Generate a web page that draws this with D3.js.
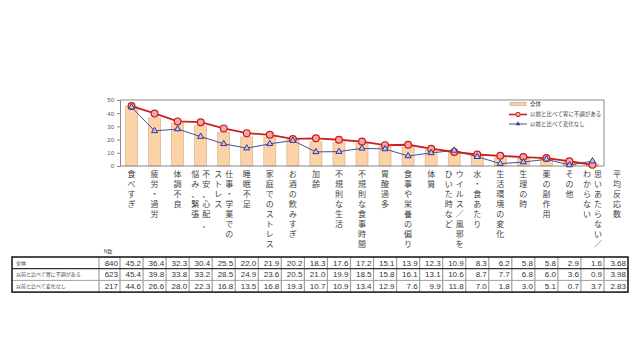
<!DOCTYPE html>
<html>
<head>
<meta charset="utf-8">
<script src="https://cdn.jsdelivr.net/npm/d3@7"></script>
<style>
  body { margin: 0; background: #fff; }
  svg { display: block; }
</style>
</head>
<body>
<script>
const W = 640, H = 360;

// categories, written as vertical label columns (right column first)
const categories = [
  ['食べすぎ'], ['疲労・過労'], ['体調不良'], ['不安、心配、', '悩み、緊張'],
  ['仕事・学業での', 'ストレス'], ['睡眠不足'], ['家庭でのストレス'], ['お酒の飲みすぎ'],
  ['加齢'], ['不規則な生活'], ['不規則な食事時間'], ['胃酸過多'],
  ['食事や栄養の偏り'], ['体質'], ['ウイルス／風邪を', 'ひいた時など'], ['水・食あたり'],
  ['生活環境の変化'], ['生理の時'], ['薬の副作用'], ['その他'],
  ['思いあたらない／', 'わからない']
];
const extraColumn = ['平均反応数'];

const seriesNames = ['全体', '以前と比べて胃に不調がある', '以前と比べて変化なし'];
const nValues = [840, 623, 217];

const totalAll   = [45.2, 36.4, 32.3, 30.4, 25.5, 22.0, 21.9, 20.2, 18.3, 17.6, 17.2, 15.1, 13.9, 12.3, 10.9, 8.3, 6.2, 5.8, 5.8, 2.9, 1.6];
const troubled   = [45.4, 39.8, 33.8, 33.2, 28.5, 24.9, 23.6, 20.5, 21.0, 19.9, 18.5, 15.8, 16.1, 13.1, 10.6, 8.7, 7.7, 6.8, 6.0, 3.6, 0.9];
const unchanged  = [44.6, 26.6, 28.0, 22.3, 16.8, 13.5, 16.8, 19.3, 10.7, 10.9, 13.4, 12.9, 7.6, 9.9, 11.8, 7.0, 1.8, 3.0, 5.1, 0.7, 3.7];
const avgResponses = [3.68, 3.98, 2.83];

const yTicks = [0, 10, 20, 30, 40, 50];

const jp = '"Noto Sans CJK JP", sans-serif';
const num = '"Liberation Sans", Arial, sans-serif';

const svg = d3.select('body').append('svg').attr('width', W).attr('height', H);

const x = d3.scaleBand()
  .domain(d3.range(categories.length))
  .range([120, 604])
  .paddingInner(0.48)
  .paddingOuter(0.24);
const step = x.step();
const cx = (i) => x(i) + x.bandwidth() / 2;

const y = d3.scaleLinear().domain([0, 50]).range([166, 100]);

// frame (top and right)
svg.append('path')
  .attr('d', `M${x.range()[0]},${y(50)}H${x.range()[1]}V${y(0)}`)
  .attr('fill', 'none')
  .attr('stroke', '#8a8a8a')
  .attr('stroke-width', 1);

// bars
svg.append('g').selectAll('rect')
  .data(totalAll)
  .enter()
  .append('rect')
    .attr('x', (d, i) => x(i))
    .attr('y', (d) => y(d))
    .attr('width', x.bandwidth())
    .attr('height', (d) => y(0) - y(d))
    .attr('fill', '#fcd3a9')
    .attr('stroke', '#d8a780')
    .attr('stroke-width', 0.6);

// y axis
const yAxis = svg.append('g')
  .attr('transform', `translate(${x.range()[0]},0)`)
  .call(d3.axisLeft(y).tickValues(yTicks).tickSize(3).tickPadding(3));
yAxis.select('.domain').attr('stroke', '#8a8a8a');
yAxis.selectAll('.tick line').attr('stroke', '#8a8a8a');
yAxis.selectAll('text').attr('font-family', num).attr('font-size', 6).attr('fill', '#555');

// x baseline
svg.append('line')
  .attr('x1', x.range()[0]).attr('x2', x.range()[1])
  .attr('y1', y(0)).attr('y2', y(0))
  .attr('stroke', '#8a8a8a');

// lines
const line = d3.line().x((d, i) => cx(i)).y((d) => y(d));

svg.append('path')
  .datum(unchanged)
  .attr('d', line)
  .attr('fill', 'none')
  .attr('stroke', '#4d4d99')
  .attr('stroke-width', 1);

svg.append('path')
  .datum(troubled)
  .attr('d', line)
  .attr('fill', 'none')
  .attr('stroke', '#cc2020')
  .attr('stroke-width', 1.8);

svg.append('g').selectAll('circle')
  .data(troubled)
  .enter()
  .append('circle')
    .attr('cx', (d, i) => cx(i))
    .attr('cy', (d) => y(d))
    .attr('r', 3.4)
    .attr('fill', '#f3a8a8')
    .attr('stroke', '#cc1a1a')
    .attr('stroke-width', 1.2);

const tri = d3.symbol().type(d3.symbolTriangle).size(16);
svg.append('g').selectAll('path')
  .data(unchanged)
  .enter()
  .append('path')
    .attr('d', tri)
    .attr('transform', (d, i) => `translate(${cx(i)},${y(d)})`)
    .attr('fill', '#c9c9ee')
    .attr('stroke', '#35358a')
    .attr('stroke-width', 1);

// legend
const legend = svg.append('g').attr('font-family', jp).attr('font-size', 5.5).attr('fill', '#444');
const legendY = [104, 114.5, 124];
legend.append('rect')
  .attr('x', 510).attr('y', legendY[0] - 1.5).attr('width', 16).attr('height', 3)
  .attr('fill', '#fcd3a9').attr('stroke', '#c99a72').attr('stroke-width', 0.6);
legend.append('line')
  .attr('x1', 509).attr('x2', 527).attr('y1', legendY[1]).attr('y2', legendY[1])
  .attr('stroke', '#cc2020').attr('stroke-width', 1.6);
legend.append('circle')
  .attr('cx', 518).attr('cy', legendY[1]).attr('r', 2.2)
  .attr('fill', '#f3a8a8').attr('stroke', '#cc1a1a').attr('stroke-width', 1);
legend.append('line')
  .attr('x1', 509).attr('x2', 527).attr('y1', legendY[2]).attr('y2', legendY[2])
  .attr('stroke', '#4d4d99').attr('stroke-width', 1);
legend.append('path')
  .attr('d', d3.symbol().type(d3.symbolTriangle).size(9))
  .attr('transform', `translate(518,${legendY[2]})`)
  .attr('fill', '#35358a');
legend.selectAll('text.lg')
  .data(seriesNames)
  .enter()
  .append('text')
    .attr('class', 'lg')
    .attr('x', 530)
    .attr('y', (d, i) => legendY[i])
    .attr('dy', '0.35em')
    .text((d) => d);

// vertical category labels
const labels = svg.append('g')
  .attr('font-family', jp)
  .attr('font-size', 8)
  .attr('fill', '#444')
  .attr('text-anchor', 'middle');

function verticalLabel(cols, center) {
  const off = cols.length > 1 ? 5.5 : 0;
  cols.forEach((col, c) => {
    // first column is read first, so it sits on the right
    const colX = center + (c === 0 ? off : -off);
    Array.from(col).forEach((ch, k) => {
      labels.append('text')
        .attr('x', colX)
        .attr('y', 177 + k * 10)
        .text(ch);
    });
  });
}
categories.forEach((cols, i) => verticalLabel(cols, cx(i)));
verticalLabel(extraColumn, x.range()[1] + 13);

// table
const tTop = 257, rowH = 11.7;
const colEdges = d3.range(categories.length + 1).map((i) => x.range()[0] + i * step);
const tLeft = 12, nLeft = 99, tRight = 628;
const tBottom = tTop + rowH * 3;
const table = svg.append('g');

table.append('text')
  .attr('x', 108).attr('y', tTop - 4)
  .attr('font-family', jp).attr('font-size', 5).attr('fill', '#444')
  .attr('text-anchor', 'middle')
  .text('N数');

const rows = seriesNames.map((name, r) => ({
  name: name,
  n: nValues[r],
  vals: [totalAll, troubled, unchanged][r],
  avg: avgResponses[r]
}));

// vertical separators
[nLeft].concat(colEdges).forEach((xe) => {
  table.append('line')
    .attr('x1', xe).attr('x2', xe).attr('y1', tTop).attr('y2', tBottom)
    .attr('stroke', '#a0a0a0').attr('stroke-width', 1.2);
});
// horizontal separators
d3.range(1, 3).forEach((r) => {
  table.append('line')
    .attr('x1', tLeft).attr('x2', tRight)
    .attr('y1', tTop + r * rowH).attr('y2', tTop + r * rowH)
    .attr('stroke', r === 1 ? '#333' : '#a0a0a0')
    .attr('stroke-width', r === 1 ? 1.3 : 1);
});
table.append('rect')
  .attr('x', tLeft).attr('y', tTop)
  .attr('width', tRight - tLeft).attr('height', tBottom - tTop)
  .attr('fill', 'none').attr('stroke', '#111').attr('stroke-width', 1.5);

rows.forEach((row, r) => {
  const ty = tTop + r * rowH + rowH / 2;
  table.append('text')
    .attr('x', tLeft + 4).attr('y', ty).attr('dy', '0.35em')
    .attr('font-family', jp).attr('font-size', 5).attr('fill', '#444')
    .text(row.name);
  table.append('text')
    .attr('x', colEdges[0] - 2).attr('y', ty).attr('dy', '0.35em')
    .attr('font-family', num).attr('font-size', 8).attr('fill', '#333')
    .attr('text-anchor', 'end')
    .text(row.n);
  table.selectAll(null)
    .data(row.vals)
    .enter()
    .append('text')
      .attr('x', (d, i) => colEdges[i + 1] - 2)
      .attr('y', ty).attr('dy', '0.35em')
      .attr('font-family', num).attr('font-size', 8).attr('fill', '#333')
      .attr('text-anchor', 'end')
      .text((d) => d.toFixed(1));
  table.append('text')
    .attr('x', tRight - 2).attr('y', ty).attr('dy', '0.35em')
    .attr('font-family', num).attr('font-size', 8).attr('fill', '#333')
    .attr('text-anchor', 'end')
    .text(row.avg.toFixed(2));
});
</script>
</body>
</html>
